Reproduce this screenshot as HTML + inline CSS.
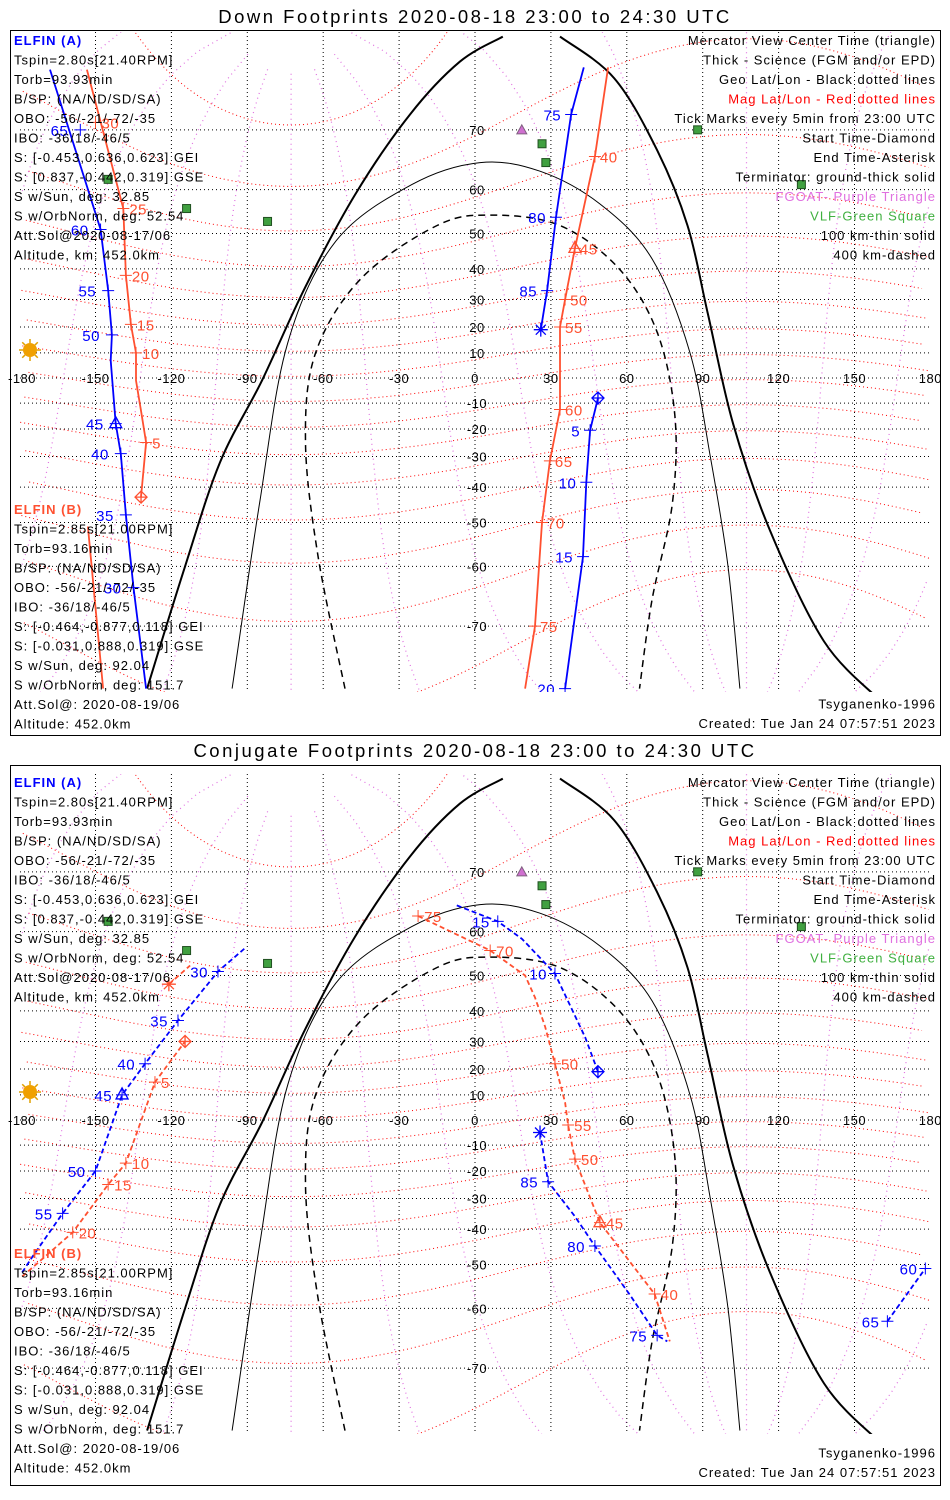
<!DOCTYPE html>
<html><head><meta charset="utf-8">
<style>
html,body{margin:0;padding:0;background:#fff;}
svg{display:block;font-family:"Liberation Sans","DejaVu Sans",sans-serif;}
</style></head>
<body>
<svg id="chart" width="950" height="1500" viewBox="0 0 950 1500" xmlns="http://www.w3.org/2000/svg"></svg>
<script>
// ---------- data ----------
const lonTicks=[-180,-150,-120,-90,-60,-30,0,30,60,90,120,150,180];
const latTicks=[70,60,50,40,30,20,10,0,-10,-20,-30,-40,-50,-60,-70];
const magLats=[-70,-60,-50,-40,-30,-20,-10,0,10,20,30,40,50,60,70,80];
const magLons=[-180,-150,-120,-90,-60,-30,0,30,60,90,120,150];
const termThick1=[[-129.6,-77],[-114.6,-60],[-100.8,-32],[-84.2,-1],[-67.2,34],[-47.4,59],[-25.7,72],[-6,77.5],[11,79.5]];
const termThick2=[[33.6,79.5],[55,76],[72,67],[84,52],[92,25],[102,-18],[116.6,-52],[138,-72],[160,-78]];
const term100=[[-96,-77],[-85,-44],[-74,14],[-55,48],[-25,61],[2,65],[25.7,63.5],[49.4,57],[70,43],[85,10],[93,-30],[100,-60],[104.7,-77]];
const term400=[[-51.4,-77],[-62,-58],[-67,-25],[-63,10],[-45,37],[-15,52],[6,54.5],[33.6,52],[57,40],[72,18],[79,-15],[78,-45],[70,-66],[65,-77]];
const purpleTri=[[17,81],[18.5,70]];
const greenSq=[[26.5,68],[28,65],[88,70],[-145,62],[-114,56],[-82,53],[129,61]];
// top panel tracks
const dnA1=[[-168,76.8],[-148,51],[-145,33],[-143.5,17],[-144,7],[-142,-18],[-140,-29],[-138,-48],[-135,-64],[-130,-77]];
const dnA1Ticks=[[-156,70,'65'],[-148,51,'60'],[-145,33,'55'],[-143.5,17,'50'],[-142,-18,'45'],[-140,-29,'40'],[-138,-48,'35'],[-135,-64,'30']];
const dnB1=[[-153.4,76.8],[-139,56],[-138,38],[-136,21],[-134,10],[-134,-1],[-132,-13],[-130,-25],[-132,-43]];
const dnB1Ticks=[[-150,71,'30'],[-139,56,'25'],[-138,38,'20'],[-136,21,'15'],[-134,10,'10'],[-130,-25,'5']];
const dnB1b=[[-153,-51],[-147,-77]];
const dnA2=[[43,77],[38,72],[32,54],[28.5,33],[26,19]];
const dnA2Ticks=[[38,72,'75'],[32,54,'80'],[28.5,33,'85']];
const dnA3=[[48.6,-8],[45.5,-20.5],[44,-38.5],[42.7,-58],[35.6,-77]];
const dnA3Ticks=[[45.5,-20.5,'5'],[44,-38.5,'10'],[42.7,-58,'15'],[35.6,-77,'20']];
const dnB2=[[52.6,77],[47.4,66],[39.5,46],[35.6,30],[33.6,20],[33.6,-12.5],[29.6,-31.5],[26.5,-50],[23.7,-70],[19.8,-77]];
const dnB2Ticks=[[47.4,66,'40'],[39.5,46,'45'],[35.6,30,'50'],[33.6,20,'55'],[33.6,-12.5,'60'],[29.6,-31.5,'65'],[26.5,-50,'70'],[23.7,-70,'75']];
// bottom panel tracks
const cjA1=[[-179,-52],[-175,-48],[-163,-35],[-150,-20],[-139.5,10],[-130.4,22],[-117.4,37],[-101.6,51],[-91,56.5]];
const cjA1Ticks=[[-163,-35,'55'],[-150,-20,'50'],[-139.5,10,'45'],[-130.4,22,'40'],[-117.4,37,'35'],[-101.6,51,'30']];
const cjB1=[[-179,-53],[-159,-41],[-145,-25],[-138,-17],[-126.5,15],[-114.6,30]];
const cjB1Ticks=[[-159,-41,'20'],[-145,-25,'15'],[-138,-17,'10'],[-126.5,15,'5']];
const cjB1b=[[-121,47.7],[-112.6,52.5]];
const cjA2=[[48.6,19],[43.5,31.5],[31.6,50.5],[18.6,58.5],[9,62],[-8,65]];
const cjA2Ticks=[[31.6,50.5,'10'],[9,62,'15']];
const cjA3=[[25.7,-5],[28.9,-24],[39.5,-36],[47.4,-45],[61,-57],[72,-65],[76,-66]];
const cjA3Ticks=[[28.9,-24,'85'],[47.4,-45,'80'],[72,-65,'75']];
const cjA4=[[163,-62.5],[178,-51]];
const cjA4Ticks=[[163,-62.5,'65'],[178,-51,'60']];
const cjB2=[[-22.5,63],[6,56],[19.8,50],[23.7,44],[27.7,35],[31.6,22],[35.6,7],[36.8,-2],[39.5,-15.5],[49.4,-38],[71,-57],[77,-66]];
const cjB2Ticks=[[-22.5,63,'75'],[6,56,'70'],[31.6,22,'50'],[36.8,-2,'55'],[39.5,-15.5,'50'],[49.4,-38,'45'],[71,-57,'40']];

// ---------- helpers ----------
const NS='http://www.w3.org/2000/svg';
const svg=document.getElementById('chart');
const BLUE='#0000ff', RED='#ff5030';
function px(lon){return 475+lon*2.53;}
function py(lat,off){return off+378-143*Math.log(Math.tan(Math.PI/4+lat*Math.PI/360));}
function mk(tag,attrs,parent){const e=document.createElementNS(NS,tag);for(const k in attrs)e.setAttribute(k,attrs[k]);(parent||svg).appendChild(e);return e;}
function txt(x,y,s,fill,anchor,size,parent,weight,ls){const t=mk('text',{x:x,y:y,fill:fill||'#000','font-size':size||13,'text-anchor':anchor||'start','font-weight':weight||'normal','letter-spacing':ls===undefined?1:ls},parent);t.textContent=s;return t;}
function ptsStr(arr,off){return arr.map(p=>px(p[0]).toFixed(1)+','+py(p[1],off).toFixed(1)).join(' ');}
function smoothPath(arr,off){
  const P=arr.map(p=>[px(p[0]),py(p[1],off)]);
  let d=`M${P[0][0].toFixed(1)},${P[0][1].toFixed(1)}`;
  for(let i=0;i<P.length-1;i++){
    const p0=P[Math.max(0,i-1)],p1=P[i],p2=P[i+1],p3=P[Math.min(P.length-1,i+2)];
    const c1=[p1[0]+(p2[0]-p0[0])/6,p1[1]+(p2[1]-p0[1])/6];
    const c2=[p2[0]-(p3[0]-p1[0])/6,p2[1]-(p3[1]-p1[1])/6];
    d+=`C${c1[0].toFixed(1)},${c1[1].toFixed(1)} ${c2[0].toFixed(1)},${c2[1].toFixed(1)} ${p2[0].toFixed(1)},${p2[1].toFixed(1)}`;
  }
  return d;
}
function magToGeo(mlat,mlon){
  const lp=80.65*Math.PI/180, op=-72.68*Math.PI/180, a=Math.PI/2-lp;
  const la=mlat*Math.PI/180, lo=mlon*Math.PI/180;
  let x=Math.cos(la)*Math.cos(lo), y=Math.cos(la)*Math.sin(lo), z=Math.sin(la);
  let x1=x*Math.cos(a)+z*Math.sin(a), z1=-x*Math.sin(a)+z*Math.cos(a), y1=y;
  let x2=x1*Math.cos(op)-y1*Math.sin(op), y2=x1*Math.sin(op)+y1*Math.cos(op);
  return [Math.atan2(y2,x2)*180/Math.PI, Math.asin(Math.max(-1,Math.min(1,z1)))*180/Math.PI];
}
function drawGeoSeq(seq,off,attrs,g,name){
  let seg=[];const segs=[];
  for(let i=0;i<seq.length;i++){
    if(i>0 && Math.abs(seq[i][0]-seq[i-1][0])>180){segs.push(seg);seg=[];}
    if(Math.abs(seq[i][1])<84) seg.push(seq[i]); else {if(seg.length)segs.push(seg);seg=[];}
  }
  segs.push(seg);
  segs.forEach(s=>{if(s.length<2)return;
    const p=mk('polyline',Object.assign({points:ptsStr(s,off),fill:'none'},attrs),g);
    
    
  });
}
function track(arr,ticks,off,color,dash,g,name,lblDx){
  const p=mk('polyline',{points:ptsStr(arr,off),fill:'none',stroke:color,'stroke-width':1.8,'stroke-dasharray':dash?'5,3':'none'},g);
  
  
  ticks.forEach(t=>{
    const x=px(t[0]),y=py(t[1],off);
    const c=mk('path',{d:`M${x-6},${y}h12M${x},${y-6}v12`,stroke:color,'stroke-width':1},g);
    
    
    const l=txt(x+lblDx,y+6,t[2],color,lblDx<0?'end':'start',15,g,'normal',0.5);
    
    
  });
}
function marker(type,lon,lat,off,color,g){
  const x=px(lon),y=py(lat,off);let e;
  if(type==='tri') e=mk('path',{d:`M${x},${y-7}L${x+6},${y+4}L${x-6},${y+4}Z`,fill:'none',stroke:color,'stroke-width':1.3},g);
  else if(type==='dia') e=mk('path',{d:`M${x},${y-6}L${x+6},${y}L${x},${y+6}L${x-6},${y}ZM${x-6},${y}h12M${x},${y-6}v12`,fill:'none',stroke:color,'stroke-width':1.3},g);
  else e=mk('path',{d:`M${x-7},${y}h14M${x},${y-7}v14M${x-5},${y-5}l10,10M${x+5},${y-5}l-10,10`,stroke:color,'stroke-width':1.3},g);
  
  
}

function panel(off,title,tracks,markers){
  const g=mk('g',{});
  
  
  const tt=txt(475,off+(off?15:23),title,'#000','middle',18.5,g,'normal',2.5);
  
  
  const fr=mk('rect',{x:10.5,y:off+(off?23.5:30.5),width:930,height:off?720:705,fill:'none',stroke:'#000'},g);
  
  
  const cid='clip'+off;
  const cp=mk('clipPath',{id:cid},g);
  mk('rect',{x:20,y:off+32,width:912,height:660},cp);
  const mg=mk('g',{'clip-path':`url(#${cid})`},g);
  
  
  magLats.forEach(m=>{const s=[];for(let l=-180;l<=180;l+=4)s.push(magToGeo(m,l));s.sort((a,b)=>a[0]-b[0]);
    drawGeoSeq(s,off,{stroke:'#ff0000','stroke-width':1,'stroke-dasharray':'1,3'},mg,'mag-lat-line');});
  magLons.forEach(m=>{const s=[];for(let l=-88;l<=88;l+=3)s.push(magToGeo(l,m));
    drawGeoSeq(s,off,{stroke:'#e070e0','stroke-width':1.2,'stroke-dasharray':'1,4'},mg,'mag-lon-line');});
  lonTicks.slice(1,-1).forEach(l=>{const e=mk('line',{x1:px(l),x2:px(l),y1:off+32,y2:off+692,stroke:'#000','stroke-dasharray':'1,3'},mg);
    
    });
  latTicks.forEach(l=>{const e=mk('line',{x1:20,x2:932,y1:py(l,off),y2:py(l,off),stroke:'#000','stroke-dasharray':'1,3'},mg);
    
    });
  latTicks.forEach(l=>{if(l===0)return;const t=txt(477,py(l,off)+5,String(l),'#000','middle',13,mg,'normal',0.5);
    
    });
  [termThick1,termThick2].forEach(a=>{const e=mk('path',{d:smoothPath(a,off),fill:'none',stroke:'#000','stroke-width':2},mg);
    
    });
  const t1=mk('path',{d:smoothPath(term100,off),fill:'none',stroke:'#000','stroke-width':1},mg);
  
  
  const t4=mk('path',{d:smoothPath(term400,off),fill:'none',stroke:'#000','stroke-width':1.5,'stroke-dasharray':'7,5'},mg);
  
  
  purpleTri.forEach(p=>{const x=px(p[0]),y=py(p[1],off);const e=mk('path',{d:`M${x},${y-5}L${x+5},${y+4}L${x-5},${y+4}Z`,fill:'#d070d0',stroke:'#806080'},mg);
    
    });
  greenSq.forEach(p=>{const x=px(p[0]),y=py(p[1],off);const e=mk('rect',{x:x-4,y:y-4,width:8,height:8,fill:'#40a040',stroke:'#205020'},mg);
    
    });
  tracks.forEach(t=>track(t[0],t[1],off,t[2],t[3],mg,t[4],t[5]));
  markers.forEach(m=>marker(m[0],m[1],m[2],off,m[3],mg));
  lonTicks.forEach(l=>{const t=txt(Math.min(931,Math.max(22,px(l))),py(0,off)+5,String(l),'#000','middle',13,g,'normal',0.5);
    
    });
  const sx=30,sy=py(0,off)-28;
  const sun=mk('g',{},g);
  
  
  for(let i=0;i<8;i++){const a=i*Math.PI/4;mk('line',{x1:sx+7*Math.cos(a),y1:sy+7*Math.sin(a),x2:sx+11*Math.cos(a),y2:sy+11*Math.sin(a),stroke:'#e0a000','stroke-width':1.5},sun);}
  mk('circle',{cx:sx,cy:sy,r:7,fill:'#f0a000'},sun);
  const la=['Tspin=2.80s[21.40RPM]','Torb=93.93min','B/SP: (NA/ND/SD/SA)','OBO: -56/-21/-72/-35','IBO: -36/18/-46/5','S: [-0.453,0.636,0.623] GEI','S: [0.837,-0.442,0.319] GSE','S w/Sun, deg: 32.85','S w/OrbNorm, deg: 52.54','Att.Sol@2020-08-17/06','Altitude, km: 452.0km'];
  const lb=['Tspin=2.85s[21.00RPM]','Torb=93.16min','B/SP: (NA/ND/SD/SA)','OBO: -56/-21/-72/-35','IBO: -36/18/-46/5','S: [-0.464,-0.877,0.118] GEI','S: [-0.031,0.888,0.319] GSE','S w/Sun, deg: 92.04','S w/OrbNorm, deg: 151.7','Att.Sol@: 2020-08-19/06','Altitude: 452.0km'];
  const ax=txt(14,off+45,'ELFIN (A)',BLUE,'start',13,g,'bold',1);
  
  
  la.forEach((s,i)=>{const t=txt(14,off+64.5+i*19.5,s,'#000','start',13,g);
    
    });
  const by=off+(off?516:514);
  const bx=txt(14,by,'ELFIN (B)',RED,'start',13,g,'bold',1);
  
  
  lb.forEach((s,i)=>{const t=txt(14,by+19.5+i*19.5,s,'#000','start',13,g);
    
    });
  const leg=[['Mercator View Center Time (triangle)','#000'],['Thick - Science (FGM and/or EPD)','#000'],['Geo Lat/Lon - Black dotted lines','#000'],['Mag Lat/Lon - Red dotted lines','#ff0000'],['Tick Marks every 5min from 23:00 UTC','#000'],['Start Time-Diamond','#000'],['End Time-Asterisk','#000'],['Terminator: ground-thick solid','#000'],['FGOAT- Purple Triangle','#e070e0'],['VLF-Green Square','#40b040'],['100 km-thin solid','#000'],['400 km-dashed','#000']];
  leg.forEach((l,i)=>{const t=txt(936,off+45+i*19.5,l[0],l[1],'end',13,g);
    
    });
  const ty=off+(off?1472-742+5:728);
  const m1=txt(936,ty-19.5,'Tsyganenko-1996','#000','end',13,g);
  
  
  const m2=txt(936,ty,'Created: Tue Jan 24 07:57:51 2023','#000','end',13,g);
  
  
}

panel(0,'Down Footprints 2020-08-18 23:00 to 24:30 UTC',
  [[dnA1,dnA1Ticks,BLUE,false,'elfin-a-track',-12],[dnB1,dnB1Ticks,RED,false,'elfin-b-track',6],[dnB1b,[],RED,false,'elfin-b-track',6],
   [dnA2,dnA2Ticks,BLUE,false,'elfin-a-track',-10],[dnA3,dnA3Ticks,BLUE,false,'elfin-a-track',-10],[dnB2,dnB2Ticks,RED,false,'elfin-b-track',5]],
  [['tri',-142,-18,BLUE],['dia',-132,-43,RED],['ast',26,19,BLUE],['dia',48.6,-8,BLUE],['tri',39.5,46,RED]]);
panel(742,'Conjugate Footprints 2020-08-18 23:00 to 24:30 UTC',
  [[cjA1,cjA1Ticks,BLUE,true,'elfin-a-track',-10],[cjB1,cjB1Ticks,RED,true,'elfin-b-track',6],[cjB1b,[],RED,true,'elfin-b-track',6],
   [cjA2,cjA2Ticks,BLUE,true,'elfin-a-track',-8],[cjA3,cjA3Ticks,BLUE,true,'elfin-a-track',-10],[cjA4,cjA4Ticks,BLUE,true,'elfin-a-track',-8],[cjB2,cjB2Ticks,RED,true,'elfin-b-track',6]],
  [['tri',-139.5,10,BLUE],['dia',-114.6,30,RED],['ast',-121,47.7,RED],['dia',48.6,19,BLUE],['ast',25.7,-5,BLUE],['tri',49.4,-38,RED]]);
</script>
</body></html>
